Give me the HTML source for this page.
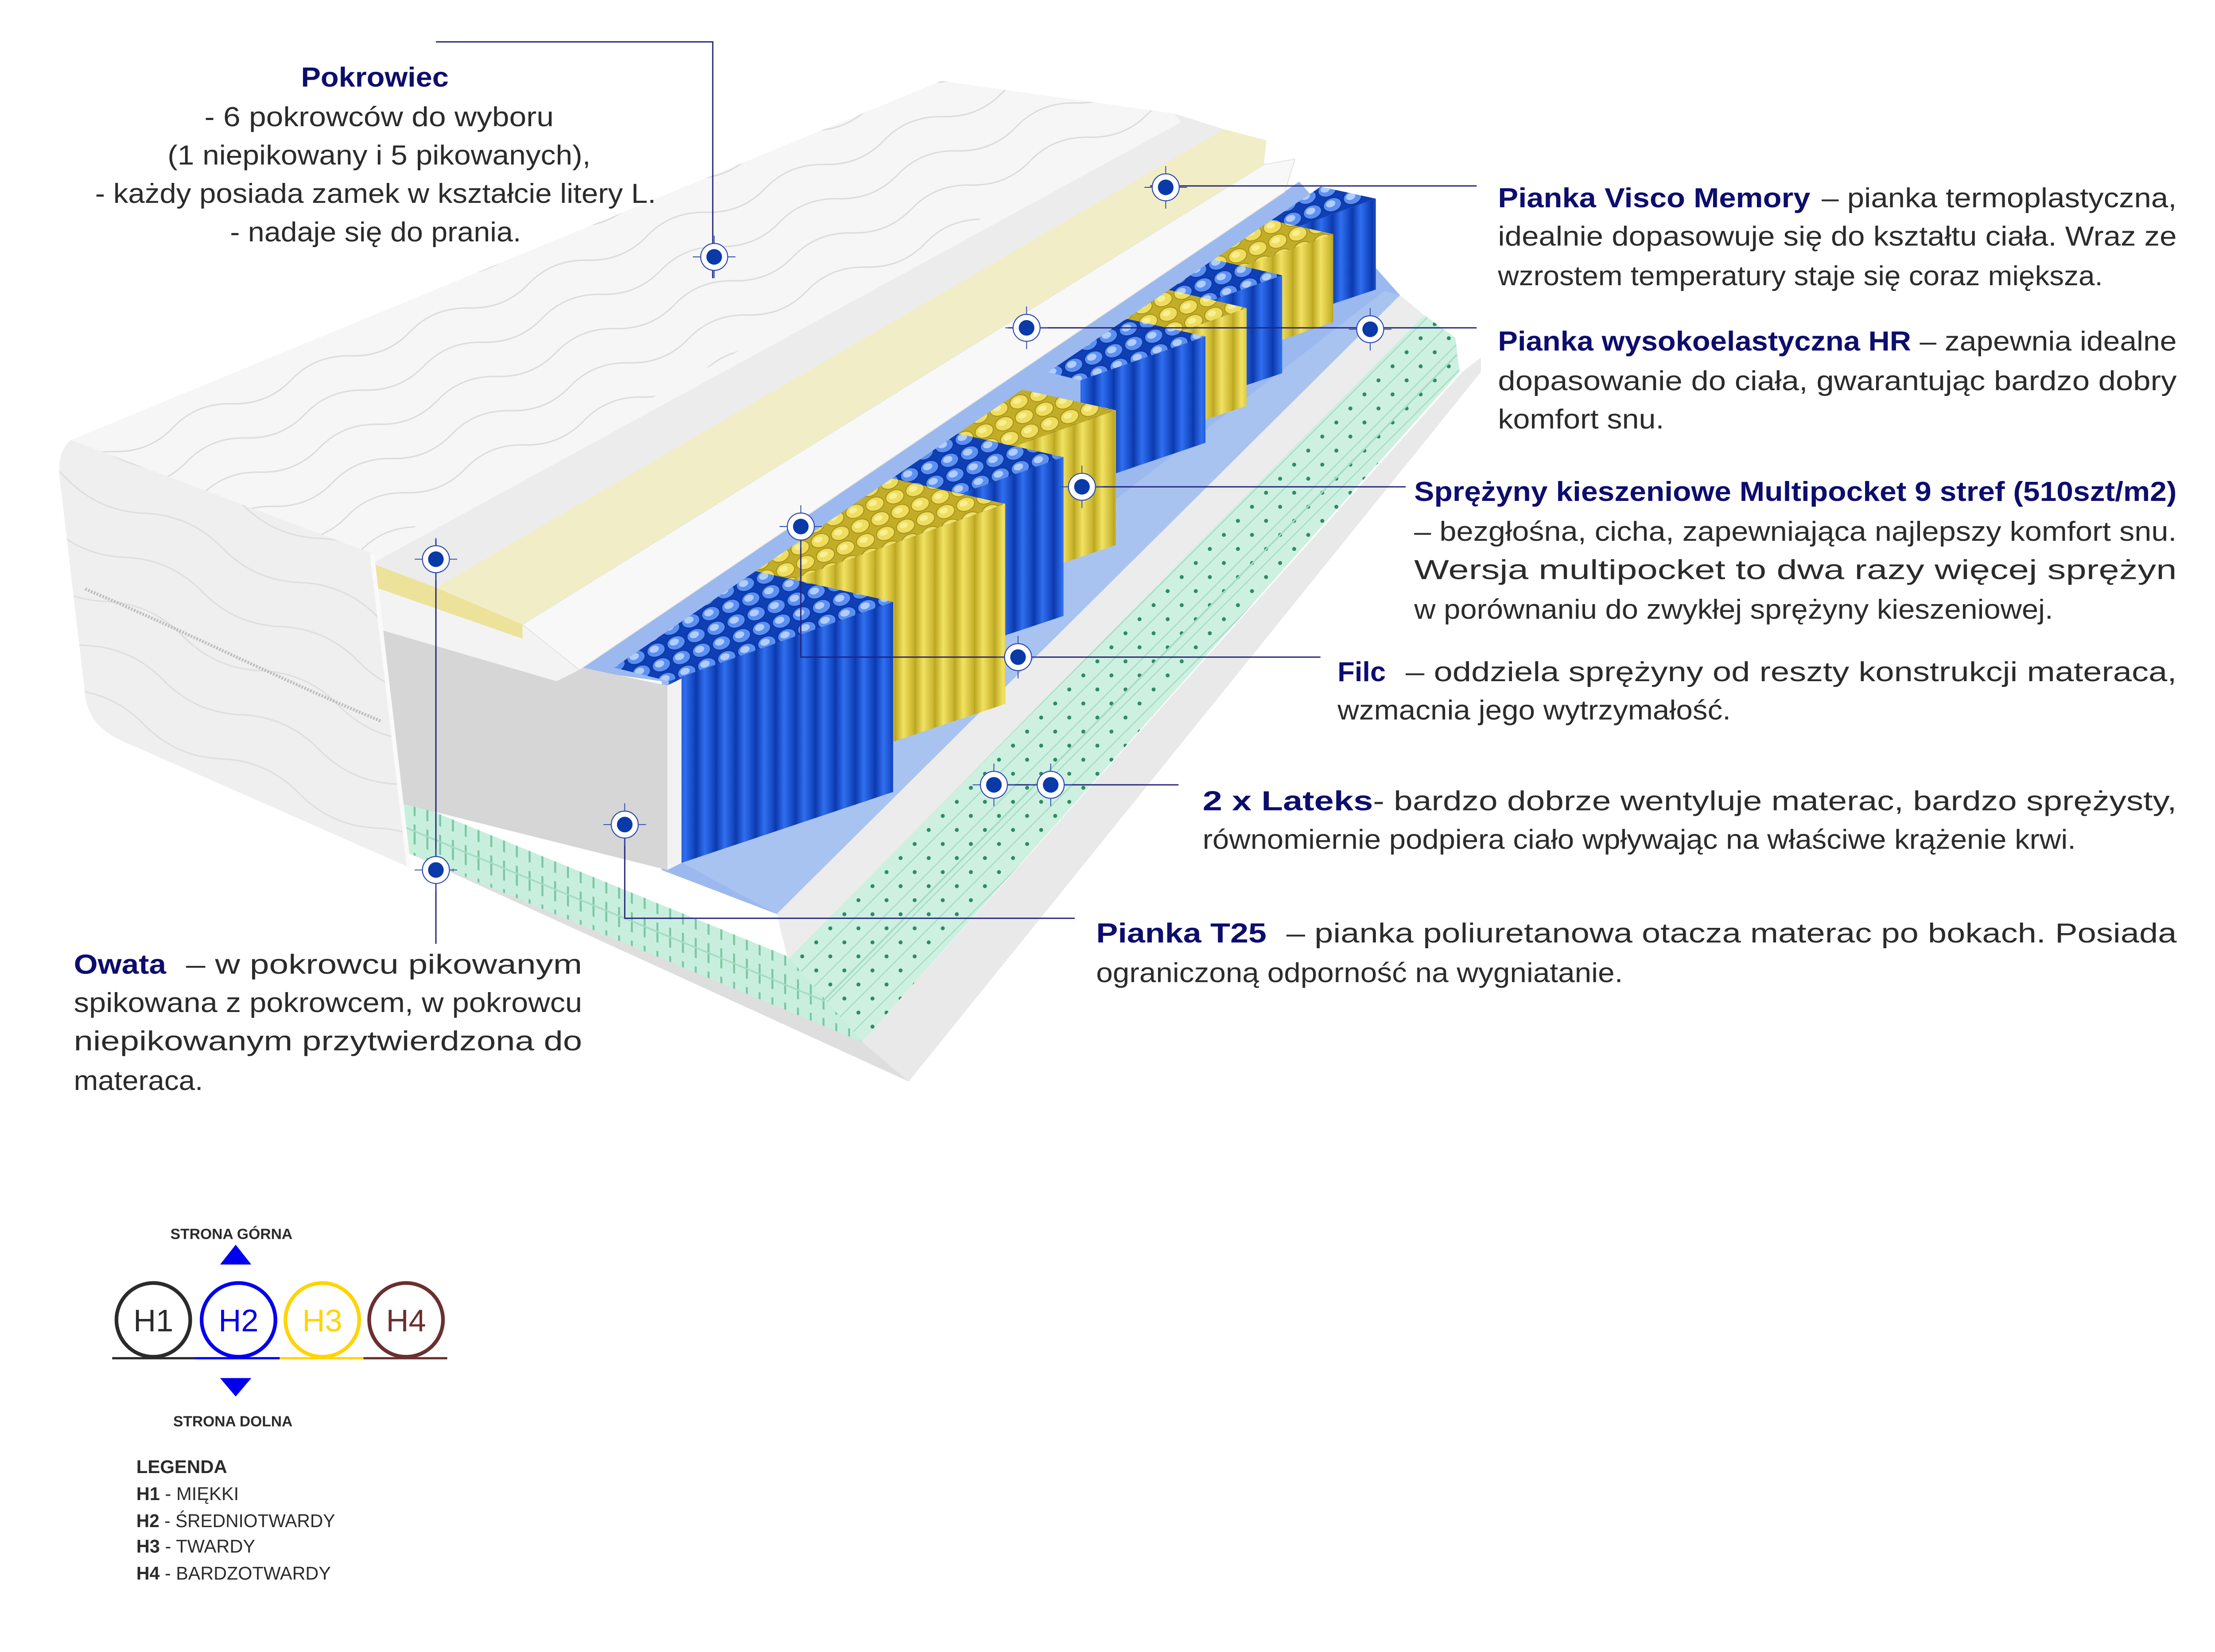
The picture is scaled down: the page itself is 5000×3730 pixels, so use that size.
<!DOCTYPE html>
<html><head><meta charset="utf-8"><style>
html,body{margin:0;padding:0;background:#fff}
svg{display:block}
.t{font-family:"Liberation Sans",sans-serif;font-size:19.5px;fill:#2b2b2b}
.b{font-family:"Liberation Sans",sans-serif;font-size:19.5px;font-weight:bold;fill:#0d0d6e}
</style></head><body>
<svg width="5000" height="3730" viewBox="0 0 1560 1164" preserveAspectRatio="none" xmlns="http://www.w3.org/2000/svg">
<defs>
<pattern id="wave" width="90" height="26" patternUnits="userSpaceOnUse" patternTransform="rotate(-22)">
<path d="M0 13 Q22 3 45 13 T90 13" fill="none" stroke="#dcdcdc" stroke-width="1"/></pattern>
<pattern id="wave2" width="120" height="34" patternUnits="userSpaceOnUse" patternTransform="rotate(24)">
<path d="M0 17 Q30 5 60 17 T120 17" fill="none" stroke="#dedede" stroke-width="1"/></pattern>
<pattern id="capB" width="15" height="11" patternUnits="userSpaceOnUse" patternTransform="rotate(-20)">
<rect width="15" height="11" fill="#0f3fb5"/><ellipse cx="7.5" cy="5.5" rx="6.6" ry="4.8" fill="#5b90f5" stroke="#0b35a0" stroke-width="0.7"/><ellipse cx="6.5" cy="4.5" rx="3.4" ry="2.3" fill="#b3cdfb"/></pattern>
<pattern id="capY" width="15" height="11" patternUnits="userSpaceOnUse" patternTransform="rotate(-20)">
<rect width="15" height="11" fill="#c2ad28"/><ellipse cx="7.5" cy="5.5" rx="6.6" ry="4.8" fill="#efdd5e" stroke="#a8931a" stroke-width="0.7"/><ellipse cx="6.5" cy="4.5" rx="3" ry="2" fill="#f8ee94"/></pattern>
<linearGradient id="gB" x1="0" x2="1"><stop offset="0" stop-color="#0b36a8"/><stop offset=".45" stop-color="#2f6ff0"/><stop offset="1" stop-color="#0d3db4"/></linearGradient>
<linearGradient id="gY" x1="0" x2="1"><stop offset="0" stop-color="#b8a31c"/><stop offset=".45" stop-color="#f2e262"/><stop offset="1" stop-color="#c4b02a"/></linearGradient>
<pattern id="faceB" width="14" height="10" patternUnits="userSpaceOnUse"><rect width="14" height="10" fill="url(#gB)"/></pattern>
<pattern id="faceY" width="14" height="10" patternUnits="userSpaceOnUse"><rect width="14" height="10" fill="url(#gY)"/></pattern>
<pattern id="ticks" width="9" height="20" patternUnits="userSpaceOnUse" patternTransform="skewY(22)">
<rect width="9" height="20" fill="#c8efdd"/><line x1="4" y1="3" x2="4" y2="17" stroke="#7cc6a4" stroke-width="1.4"/></pattern>
<pattern id="dots" width="14" height="14" patternUnits="userSpaceOnUse" patternTransform="rotate(-45)">
<rect width="14" height="14" fill="#cdf0e0"/><line x1="0" y1="1" x2="14" y2="1" stroke="#a9dcc4" stroke-width="0.8"/><circle cx="7" cy="8" r="1.4" fill="#2f8a62"/></pattern>
<clipPath id="spc"><polygon points="380,506 1000,84 1100,84 1100,700 380,700"/></clipPath>
<g id="cm"><line x1="-15" y1="0" x2="15" y2="0" stroke="#2b46b0" stroke-width="0.6"/><line x1="0" y1="-15" x2="0" y2="15" stroke="#2b46b0" stroke-width="0.6"/><circle r="9.5" fill="#fff" stroke="#2b46b0" stroke-width="0.7"/><circle r="5.5" fill="#0a3aa8"/></g>
</defs>

<!-- base grey slab -->
<polygon points="268,592 607,734 1030,262 1043,252 1043,262 640,762" fill="#dedede"/>
<polygon points="607,734 1030,262 1043,252 1043,262 640,762" fill="#e9e9e9"/>
<!-- latex green -->
<polygon points="281,562 555,674 1003,222 1025,238 1028,262 607,734 285,600" fill="url(#dots)"/>
<polygon points="281,562 555,674 607,734 285,600" fill="url(#ticks)"/>
<path d="M283,582 L580,705 L1026,250" fill="none" stroke="#a6dcc3" stroke-width="1.2"/>
<!-- white T25 strip right -->
<polygon points="547,644 986,208 1003,222 555,676" fill="#ececec"/>
<!-- felt -->
<polygon points="408,472 915,128 986,208 547,644 466,613 466,480" fill="#9bb9ee"/>
<polygon points="466,600 547,644 986,208 975,205" fill="#a9c3f0"/>

<!-- springs -->
<g clip-path="url(#spc)">
<polygon points="894,167 969,140 905,126 794,67 694,117" fill="url(#capB)"/>
<polygon points="894,167 969,140 969,204 894,229" fill="url(#faceB)"/>
<polygon points="866,191 939,165 877,151 766,91 666,141" fill="url(#capY)"/>
<polygon points="866,191 939,165 939,227 866,252" fill="url(#faceY)"/>
<polygon points="822,223 903,194 834,178 722,123 622,173" fill="url(#capB)"/>
<polygon points="822,223 903,194 903,263 822,290" fill="url(#faceB)"/>
<polygon points="797,246 878,217 809,201 697,146 597,196" fill="url(#capY)"/>
<polygon points="797,246 878,217 878,286 797,313" fill="url(#faceY)"/>
<polygon points="761,268 849,237 773,220 661,168 561,218" fill="url(#capB)"/>
<polygon points="761,268 849,237 849,312 761,342" fill="url(#faceB)"/>
<polygon points="674,329 786,289 690,268 574,229 474,279" fill="url(#capY)"/>
<polygon points="674,329 786,289 786,384 674,422" fill="url(#faceY)"/>
<polygon points="617,369 749,322 636,297 517,269 417,319" fill="url(#capB)"/>
<polygon points="617,369 749,322 749,434 617,478" fill="url(#faceB)"/>
<polygon points="542,414 708,355 566,323 442,314 342,364" fill="url(#capY)"/>
<polygon points="542,414 708,355 708,496 542,552" fill="url(#faceY)"/>
<polygon points="471,480 629,424 494,394 371,380 271,430" fill="url(#capB)"/>
<polygon points="471,480 629,424 629,558 471,611" fill="url(#faceB)"/>
</g>

<!-- T25 box front -->
<polygon points="265,440 470,483 470,613 282,566 268,560" fill="#d6d6d6"/>
<polygon points="470,483 480,478 480,608 470,613" fill="#f2f2f2"/>
<!-- white HR layer -->
<polygon points="262,413 368,440 890,116 912,112 905,135 408,472 392,480 262,442" fill="#f3f3f3"/>
<polygon points="368,440 890,116 912,112 905,135 408,472" fill="#f8f8f8" stroke="#e2e2e2" stroke-width=".6"/>
<!-- yellow visco -->
<polygon points="262,397 307,414 862,91 892,99 890,116 368,440 368,450 262,413" fill="#efeab8"/>
<polygon points="262,397 307,414 368,440 368,450 262,413" fill="#ece29a"/>
<polygon points="307,414 862,91 892,99 890,116 368,440" fill="#f1edc6"/>
<!-- grey top layer -->
<polygon points="258,390 827,80 862,91 307,414 262,397" fill="#ececec"/>
<polygon points="258,390 827,80 832,86 264,396" fill="#f6f6f6"/>

<!-- cover top -->
<polygon points="50,310 663,57 827,80 258,390" fill="#f6f6f6"/>
<polygon points="50,310 663,57 827,80 258,390" fill="url(#wave)"/>
<!-- cover end face -->
<path d="M50,310 C40,318 41,332 43,345 L60,490 C63,510 75,518 95,526 L288,611 L262,390 Z" fill="#efefef"/>
<path d="M50,310 C40,318 41,332 43,345 L60,490 C63,510 75,518 95,526 L288,611 L262,390 Z" fill="url(#wave2)"/>
<path d="M262,390 L288,611" stroke="#fafafa" stroke-width="3"/>
<path d="M60,415 C120,440 200,480 268,508" fill="none" stroke="#bdbdbd" stroke-width="2.2" stroke-dasharray="1.2 1"/>

<!-- connectors -->
<g fill="none" stroke="#23237a" stroke-width="0.9">
<path d="M307,29.5 H502 V196"/>
<path d="M810,131 H1040"/>
<path d="M710,231 H1040"/>
<path d="M762,343 H990"/>
<path d="M564,371 V463 H930"/>
<path d="M690,553 H830"/>
<path d="M440,581 V647 H757"/>
<path d="M307,380 V665"/>
</g>
<use href="#cm" x="503" y="181"/><use href="#cm" x="821" y="132"/><use href="#cm" x="723" y="231"/>
<use href="#cm" x="965" y="232"/><use href="#cm" x="762" y="343"/><use href="#cm" x="564" y="371"/>
<use href="#cm" x="717" y="463"/><use href="#cm" x="700" y="553"/><use href="#cm" x="740" y="553"/>
<use href="#cm" x="440" y="581"/><use href="#cm" x="307" y="394"/><use href="#cm" x="307" y="613"/>

<!-- texts -->
<text class="b" x="212" y="61" textLength="104" lengthAdjust="spacingAndGlyphs">Pokrowiec</text>
<text class="t" x="144" y="89" textLength="246" lengthAdjust="spacingAndGlyphs">- 6 pokrowców do wyboru</text>
<text class="t" x="118" y="116" textLength="298" lengthAdjust="spacingAndGlyphs">(1 niepikowany i 5 pikowanych),</text>
<text class="t" x="67" y="143" textLength="395" lengthAdjust="spacingAndGlyphs">-  każdy posiada zamek w kształcie litery L.</text>
<text class="t" x="162" y="170" textLength="205" lengthAdjust="spacingAndGlyphs">- nadaje się do prania.</text>

<text class="b" x="1055" y="146" textLength="220" lengthAdjust="spacingAndGlyphs">Pianka Visco Memory</text>
<text class="t" x="1283" y="146" textLength="250" lengthAdjust="spacingAndGlyphs">– pianka termoplastyczna,</text>
<text class="t" x="1055" y="173" textLength="478" lengthAdjust="spacingAndGlyphs">idealnie dopasowuje się do kształtu ciała. Wraz ze</text>
<text class="t" x="1055" y="201" textLength="426" lengthAdjust="spacingAndGlyphs">wzrostem temperatury staje się coraz miększa.</text>

<text class="b" x="1055" y="247" textLength="291" lengthAdjust="spacingAndGlyphs">Pianka wysokoelastyczna HR</text>
<text class="t" x="1352" y="247" textLength="181" lengthAdjust="spacingAndGlyphs">– zapewnia idealne</text>
<text class="t" x="1055" y="275" textLength="478" lengthAdjust="spacingAndGlyphs">dopasowanie do ciała, gwarantując bardzo dobry</text>
<text class="t" x="1055" y="302" textLength="117" lengthAdjust="spacingAndGlyphs">komfort snu.</text>

<text class="b" x="996" y="353" textLength="537" lengthAdjust="spacingAndGlyphs">Sprężyny kieszeniowe Multipocket 9 stref (510szt/m2)</text>
<text class="t" x="996" y="381" textLength="537" lengthAdjust="spacingAndGlyphs">– bezgłośna, cicha, zapewniająca najlepszy komfort snu.</text>
<text class="t" x="996" y="408" textLength="537" lengthAdjust="spacingAndGlyphs">Wersja multipocket to dwa razy więcej sprężyn</text>
<text class="t" x="996" y="436" textLength="450" lengthAdjust="spacingAndGlyphs">w porównaniu do zwykłej sprężyny kieszeniowej.</text>

<text class="b" x="942" y="480" textLength="34" lengthAdjust="spacingAndGlyphs">Filc</text>
<text class="t" x="990" y="480" textLength="543" lengthAdjust="spacingAndGlyphs">– oddziela sprężyny od reszty konstrukcji materaca,</text>
<text class="t" x="942" y="507" textLength="277" lengthAdjust="spacingAndGlyphs">wzmacnia jego wytrzymałość.</text>

<text class="b" x="847" y="571" textLength="120" lengthAdjust="spacingAndGlyphs">2 x Lateks</text>
<text class="t" x="967" y="571" textLength="566" lengthAdjust="spacingAndGlyphs">- bardzo dobrze wentyluje materac, bardzo sprężysty,</text>
<text class="t" x="847" y="598" textLength="615" lengthAdjust="spacingAndGlyphs">równomiernie podpiera ciało wpływając na właściwe krążenie krwi.</text>

<text class="b" x="772" y="664" textLength="120" lengthAdjust="spacingAndGlyphs">Pianka T25</text>
<text class="t" x="906" y="664" textLength="627" lengthAdjust="spacingAndGlyphs">– pianka poliuretanowa otacza materac po bokach. Posiada</text>
<text class="t" x="772" y="692" textLength="371" lengthAdjust="spacingAndGlyphs">ograniczoną odporność na wygniatanie.</text>

<text class="b" x="52" y="686" textLength="65" lengthAdjust="spacingAndGlyphs">Owata</text>
<text class="t" x="131" y="686" textLength="279" lengthAdjust="spacingAndGlyphs">– w pokrowcu pikowanym</text>
<text class="t" x="52" y="713" textLength="358" lengthAdjust="spacingAndGlyphs">spikowana z pokrowcem, w pokrowcu</text>
<text class="t" x="52" y="740" textLength="358" lengthAdjust="spacingAndGlyphs">niepikowanym przytwierdzona do</text>
<text class="t" x="52" y="768" textLength="91" lengthAdjust="spacingAndGlyphs">materaca.</text>

<!-- legend -->
<g font-family="Liberation Sans, sans-serif">
<text x="120" y="873" font-size="10.5" font-weight="bold" fill="#2b2b2b" textLength="86" lengthAdjust="spacingAndGlyphs">STRONA  GÓRNA</text>
<polygon points="166,877 177,891 155,891" fill="#0000ee"/>
<line x1="79" y1="957" x2="137" y2="957" stroke="#2b2b2b" stroke-width="1.6"/>
<line x1="137" y1="957" x2="197" y2="957" stroke="#0000ee" stroke-width="1.6"/>
<line x1="197" y1="957" x2="256" y2="957" stroke="#ffd400" stroke-width="1.6"/>
<line x1="256" y1="957" x2="315" y2="957" stroke="#6b2f2f" stroke-width="1.6"/>
<circle cx="108" cy="930" r="26" fill="none" stroke="#2b2b2b" stroke-width="2.6"/>
<circle cx="168" cy="930" r="26" fill="none" stroke="#0000ee" stroke-width="2.6"/>
<circle cx="227" cy="930" r="26" fill="none" stroke="#ffd400" stroke-width="2.6"/>
<circle cx="286" cy="930" r="26" fill="none" stroke="#6b2f2f" stroke-width="2.6"/>
<text x="108" y="938" font-size="22" text-anchor="middle" fill="#2b2b2b">H1</text>
<text x="168" y="938" font-size="22" text-anchor="middle" fill="#0000ee">H2</text>
<text x="227" y="938" font-size="22" text-anchor="middle" fill="#ffd400">H3</text>
<text x="286" y="938" font-size="22" text-anchor="middle" fill="#6b2f2f">H4</text>
<polygon points="155,971 177,971 166,984" fill="#0000ee"/>
<text x="122" y="1005" font-size="10.5" font-weight="bold" fill="#2b2b2b" textLength="84" lengthAdjust="spacingAndGlyphs">STRONA  DOLNA</text>
<text x="96" y="1038" font-size="13" font-weight="bold" fill="#2b2b2b" textLength="64" lengthAdjust="spacingAndGlyphs">LEGENDA</text>
<text x="96" y="1057" font-size="13" fill="#2b2b2b"><tspan font-weight="bold">H1</tspan> - MIĘKKI</text>
<text x="96" y="1076" font-size="13" fill="#2b2b2b" textLength="140" lengthAdjust="spacingAndGlyphs"><tspan font-weight="bold">H2</tspan> - ŚREDNIOTWARDY</text>
<text x="96" y="1094" font-size="13" fill="#2b2b2b"><tspan font-weight="bold">H3</tspan> - TWARDY</text>
<text x="96" y="1113" font-size="13" fill="#2b2b2b" textLength="137" lengthAdjust="spacingAndGlyphs"><tspan font-weight="bold">H4</tspan> - BARDZOTWARDY</text>
</g>
</svg>
</body></html>
